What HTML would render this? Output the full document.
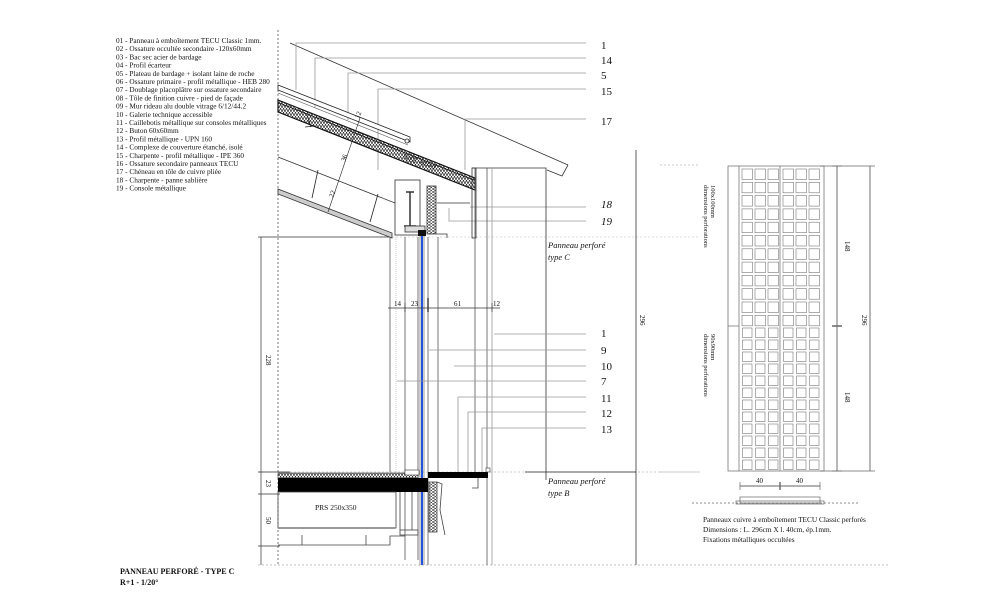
<!DOCTYPE html>
<html><head><meta charset="utf-8"><style>
html,body{margin:0;padding:0;background:#fff;width:1000px;height:600px;overflow:hidden}
svg{display:block}
text{font-family:"Liberation Serif",serif;fill:#111}
.lg{font-size:7.3px}
.lb{font-size:11px}
.it{font-style:italic}
</style></head><body>
<svg width="1000" height="600" viewBox="0 0 1000 600" xmlns="http://www.w3.org/2000/svg">
<defs>
<pattern id="hx" width="3" height="4" patternUnits="userSpaceOnUse">
<rect width="3" height="4" fill="#fff"/><path d="M0,4 L1.5,0 L3,4" stroke="#222" stroke-width="0.7" fill="none"/>
</pattern>
<pattern id="hv" width="4" height="3" patternUnits="userSpaceOnUse">
<rect width="4" height="3" fill="#fff"/><path d="M0,0 L4,1.5 L0,3" stroke="#333" stroke-width="0.6" fill="none"/>
</pattern>
</defs>

<!-- legend -->
<g class="lg">
<text x="116" y="43">01 - Panneau à emboîtement TECU Classic 1mm.</text>
<text x="116" y="51.2">02 - Ossature occultée secondaire -120x60mm</text>
<text x="116" y="59.4">03 - Bac sec acier de bardage</text>
<text x="116" y="67.6">04 - Profil écarteur</text>
<text x="116" y="75.8">05 - Plateau de bardage + isolant laine de roche</text>
<text x="116" y="84">06 - Ossature primaire - profil métallique - HEB 280</text>
<text x="116" y="92.2">07 - Doublage placoplâtre sur ossature secondaire</text>
<text x="116" y="100.4">08 - Tôle de finition cuivre - pied de façade</text>
<text x="116" y="108.6">09 - Mur rideau alu double vitrage 6/12/44.2</text>
<text x="116" y="116.8">10 - Galerie technique accessible</text>
<text x="116" y="125">11 - Caillebotis métallique sur consoles métalliques</text>
<text x="116" y="133.2">12 - Buton 60x60mm</text>
<text x="116" y="141.4">13 - Profil métallique - UPN 160</text>
<text x="116" y="149.6">14 - Complexe de couverture étanché, isolé</text>
<text x="116" y="157.8">15 - Charpente - profil métallique - IPE 360</text>
<text x="116" y="166">16 - Ossature secondaire panneaux TECU</text>
<text x="116" y="174.2">17 - Chéneau en tôle de cuivre pliée</text>
<text x="116" y="182.4">18 - Charpente - panne sablière</text>
<text x="116" y="190.6">19 - Console métallique</text>
</g>
<text x="120" y="574" style="font-size:8px;font-weight:bold">PANNEAU PERFORÉ - TYPE C</text>
<text x="120" y="585" style="font-size:8px;font-weight:bold">R+1 - 1/20°</text>

<!-- dotted axis -->
<line x1="278" y1="30" x2="278" y2="565" stroke="#555" stroke-width="0.8" stroke-dasharray="2,2"/>
<line x1="258" y1="565" x2="890" y2="565" stroke="#888" stroke-width="0.6" stroke-dasharray="2,2"/>
<line x1="258" y1="472" x2="700" y2="472" stroke="#999" stroke-width="0.6" stroke-dasharray="2,2"/>
<line x1="380" y1="237" x2="700" y2="237" stroke="#bbb" stroke-width="0.6" stroke-dasharray="2,2"/>

<!-- left dimensions -->
<g stroke="#333" stroke-width="0.7" fill="none">
<line x1="258" y1="237" x2="390" y2="237"/>
<line x1="261" y1="237" x2="261" y2="565"/>
<line x1="258" y1="472" x2="290" y2="472"/>
<line x1="258" y1="494" x2="280" y2="494"/>
<line x1="258" y1="546" x2="280" y2="546"/>
</g>
<text transform="translate(266,355) rotate(90)" style="font-size:7px">228</text>
<text transform="translate(266,480) rotate(90)" style="font-size:7px">23</text>
<text transform="translate(266,517) rotate(90)" style="font-size:7px">50</text>

<!-- roof outer line -->
<g stroke="#333" stroke-width="0.8" fill="none">
<line x1="290" y1="43" x2="568" y2="165"/>
<polyline points="568,165 562,176 547,170"/>
</g>

<!-- leaders top -->
<g stroke="#999" stroke-width="0.8" fill="none">
<polyline points="296,90 296,43 586,43"/>
<polyline points="315,108 315,58 586,58"/>
<polyline points="348,120 348,73 586,73"/>
<polyline points="378,170 378,89 586,89"/>
<polyline points="465,170 465,119 586,119"/>
<polyline points="470,207 586,207"/>
<polyline points="449,208 449,221 586,221"/>
</g>

<!-- roof assembly (absolute) -->
<g stroke="#222" stroke-width="0.8">
<polygon points="278,85 410,137 410,142 278,90" fill="#fff"/>
<line x1="278" y1="93" x2="408" y2="145" stroke="#555" stroke-width="0.6"/>
<circle cx="407" cy="141" r="2" fill="#fff"/>
<polygon points="278,100 475,178 475,190 278,112" fill="url(#hx)" stroke="#111" stroke-width="1.2"/>
<line x1="278" y1="102.5" x2="475" y2="180.5" stroke="#111"/>
<line x1="278" y1="157" x2="395" y2="203" stroke="#333"/>
<polygon points="278,189 392,233 392,238 278,194" fill="#ccc" stroke="#333"/>
<line x1="307" y1="115" x2="311" y2="127"/><line x1="305" y1="127" x2="315" y2="126"/>
<line x1="318" y1="170" x2="312" y2="198"/><line x1="378" y1="194" x2="370" y2="222"/>
<line x1="360" y1="118" x2="328" y2="212" stroke-width="0.6"/>
</g>
<text transform="translate(436,166) rotate(201.6)" class="it" style="font-size:8px">pente 23%</text>
<text transform="translate(345,162) rotate(-68.4)" style="font-size:7px">36</text>
<text transform="translate(333,198) rotate(-68.4)" style="font-size:7px">22</text>
<text transform="translate(359,119) rotate(-68.4)" style="font-size:7px">12</text>

<!-- beam/ipe box -->
<g stroke="#333" stroke-width="0.8" fill="none">
<rect x="395" y="180" width="25" height="55"/>
<line x1="406" y1="192" x2="414" y2="192" stroke-width="1.5"/>
<line x1="410" y1="192" x2="410" y2="226" stroke-width="1.5"/>
<line x1="404" y1="226" x2="416" y2="226" stroke-width="1.5"/>
<rect x="405" y="226" width="20" height="6" fill="#ddd"/>
<rect x="427" y="186" width="9" height="48" fill="url(#hv)"/>
<polyline points="436,234 447,234 447,238"/>
<rect x="472" y="168" width="4" height="70"/>
<polyline points="472,168 546,168 546,480"/>
<polyline points="437,203 470,203"/>
</g>

<!-- vertical wall lines -->
<g stroke="#555" stroke-width="0.8" fill="none">
<line x1="390" y1="237" x2="390" y2="472"/>
<line x1="396" y1="237" x2="396" y2="472" stroke="#bbb" stroke-dasharray="1,1"/>
<line x1="405" y1="237" x2="405" y2="560"/>
<line x1="418" y1="237" x2="418" y2="560"/>
<line x1="428" y1="237" x2="428" y2="565"/>
<line x1="438" y1="237" x2="438" y2="472"/>
<line x1="475" y1="168" x2="475" y2="472"/>
<line x1="487" y1="168" x2="487" y2="565"/>
<line x1="492" y1="168" x2="492" y2="565" stroke="#999"/>
<line x1="636" y1="150" x2="636" y2="565" stroke="#333"/>
</g>
<line x1="422" y1="235" x2="422" y2="565" stroke="#2255dd" stroke-width="2"/>
<line x1="420" y1="235" x2="420" y2="565" stroke="#333" stroke-width="0.5"/>
<line x1="424" y1="235" x2="424" y2="565" stroke="#333" stroke-width="0.5"/>
<rect x="418" y="230" width="8" height="6" fill="#111"/>

<!-- dim line horiz -->
<g stroke="#333" stroke-width="0.7">
<line x1="388" y1="308" x2="500" y2="308"/>
<line x1="405" y1="303" x2="405" y2="312"/>
<line x1="428" y1="298" x2="428" y2="312" stroke-width="1.4"/>
<line x1="492" y1="303" x2="492" y2="312"/>
</g>
<text x="394" y="306" style="font-size:7px">14</text>
<text x="411" y="306" style="font-size:7px">23</text>
<text x="454" y="306" style="font-size:7px">61</text>
<text x="493" y="306" style="font-size:7px">12</text>
<text transform="translate(640,315) rotate(90)" style="font-size:7px">296</text>

<!-- leaders mid -->
<g stroke="#999" stroke-width="0.8" fill="none">
<line x1="494" y1="334" x2="586" y2="334"/>
<line x1="429" y1="350" x2="586" y2="350"/>
<line x1="454" y1="366" x2="586" y2="366"/>
<line x1="397" y1="381" x2="586" y2="381"/>
<polyline points="458,472 458,397 586,397"/>
<polyline points="468,472 468,412 586,412"/>
<polyline points="482,472 482,428 586,428"/>
<line x1="525" y1="472" x2="636" y2="472" stroke="#222"/>
</g>

<!-- labels -->
<g class="lb">
<text x="601" y="49">1</text><text x="601" y="64">14</text><text x="601" y="79">5</text>
<text x="601" y="95">15</text><text x="601" y="125">17</text>
<text x="601" y="208" class="it">18</text><text x="601" y="225" class="it">19</text>
<text x="601" y="337">1</text><text x="601" y="354">9</text><text x="601" y="370">10</text>
<text x="601" y="385">7</text><text x="601" y="402">11</text><text x="601" y="417">12</text><text x="601" y="433">13</text>
</g>
<text x="548" y="248" class="it" style="font-size:8.5px">Panneau perforé</text>
<text x="548" y="260" class="it" style="font-size:8.5px">type C</text>
<text x="548" y="484" class="it" style="font-size:8.5px">Panneau perforé</text>
<text x="548" y="496" class="it" style="font-size:8.5px">type B</text>

<!-- floor slab -->
<rect x="278" y="473" width="140" height="5" fill="url(#hx)" stroke="#333" stroke-width="0.6"/>
<rect x="278" y="478" width="150" height="14" fill="#000"/>
<rect x="405" y="470" width="14" height="5" fill="#fff" stroke="#333" stroke-width="0.6"/>
<rect x="428" y="472" width="60" height="6" fill="#000"/>
<rect x="486" y="468" width="4" height="4" fill="#fff" stroke="#333" stroke-width="0.6"/>
<g stroke="#444" stroke-width="0.8" fill="none">
<rect x="278" y="492" width="118" height="36"/>
<line x1="278" y1="528" x2="395" y2="528" stroke-width="2" stroke="#999"/>
<polyline points="278,545 390,545 390,536 405,536"/>
<line x1="400" y1="492" x2="400" y2="530"/>
<line x1="412" y1="492" x2="412" y2="530"/>
<rect x="400" y="530" width="18" height="5"/>
<rect x="429" y="482" width="8" height="50" fill="url(#hv)"/>
<polyline points="437,482 442,484 440,510 444,530 445,535"/>
<polyline points="478,478 478,488 472,488"/>
<line x1="302" y1="535" x2="302" y2="545"/><line x1="366" y1="535" x2="366" y2="545"/>
</g>
<text x="315" y="510" style="font-size:7.5px">PRS 250x350</text>

<!-- panel elevation -->
<g stroke="#666" stroke-width="0.7" fill="none">
<rect x="728" y="166" width="96" height="305"/>
<line x1="739" y1="166" x2="739" y2="471"/>
<line x1="780" y1="166" x2="780" y2="471"/>
<line x1="728" y1="326" x2="739" y2="326"/>
<line x1="837" y1="166" x2="837" y2="471" stroke="#333"/>
<line x1="832" y1="166" x2="842" y2="166"/>
<line x1="832" y1="326" x2="842" y2="326" stroke-width="1.5"/>
<line x1="832" y1="471" x2="842" y2="471"/>
<line x1="870" y1="166" x2="870" y2="471" stroke="#333"/>
<line x1="820" y1="166" x2="875" y2="166"/>
<line x1="820" y1="471" x2="875" y2="471"/>
<line x1="740" y1="486" x2="820" y2="486" stroke="#333"/>
<line x1="740" y1="482" x2="740" y2="490"/>
<line x1="780" y1="482" x2="780" y2="490" stroke-width="1.4"/>
<line x1="820" y1="482" x2="820" y2="490"/>
<line x1="692" y1="503" x2="860" y2="503" stroke-dasharray="2,2"/>
<rect x="740" y="497" width="80" height="6"/>
<rect x="736" y="501" width="88" height="3"/>
<line x1="660" y1="165" x2="700" y2="165" stroke="#bbb" stroke-dasharray="2,2"/>
<line x1="660" y1="472" x2="700" y2="472" stroke="#bbb" stroke-dasharray="2,2"/>
</g>
<g id="sq" stroke="#777" stroke-width="0.6" fill="none"></g>
<text transform="translate(845,241) rotate(90)" style="font-size:7px">148</text>
<text transform="translate(845,392) rotate(90)" style="font-size:7px">148</text>
<text transform="translate(862,315) rotate(90)" style="font-size:7px">296</text>
<text transform="translate(704,185) rotate(90)" style="font-size:6.5px">dimensions perforations</text>
<text transform="translate(711,185) rotate(90)" style="font-size:6.5px">100x100mm</text>
<text transform="translate(704,334) rotate(90)" style="font-size:6.5px">dimensions perforations</text>
<text transform="translate(711,334) rotate(90)" style="font-size:6.5px">90x90mm</text>
<text x="756" y="483" style="font-size:7px">40</text>
<text x="796" y="483" style="font-size:7px">40</text>
<text x="703" y="522" style="font-size:7.3px">Panneaux cuivre à emboîtement TECU Classic perforés</text>
<text x="703" y="532" style="font-size:7.3px">Dimensions : L. 296cm X l. 40cm, ép.1mm.</text>
<text x="703" y="542" style="font-size:7.3px">Fixations métalliques occultées</text>
</svg>
<script>
var g=document.getElementById('sq'),s='';
var xs=[742,755,768,783,796,809];
for(var r=0;r<12;r++){var y=169+r*13.3;for(var i=0;i<6;i++)s+='<rect x="'+xs[i]+'" y="'+y.toFixed(1)+'" width="10.5" height="10.5"/>';}
for(var r=0;r<12;r++){var y=328+r*12;for(var i=0;i<6;i++)s+='<rect x="'+(xs[i]+0.5)+'" y="'+y+'" width="9.5" height="9.5"/>';}
g.innerHTML=s;
</script>
</body></html>
